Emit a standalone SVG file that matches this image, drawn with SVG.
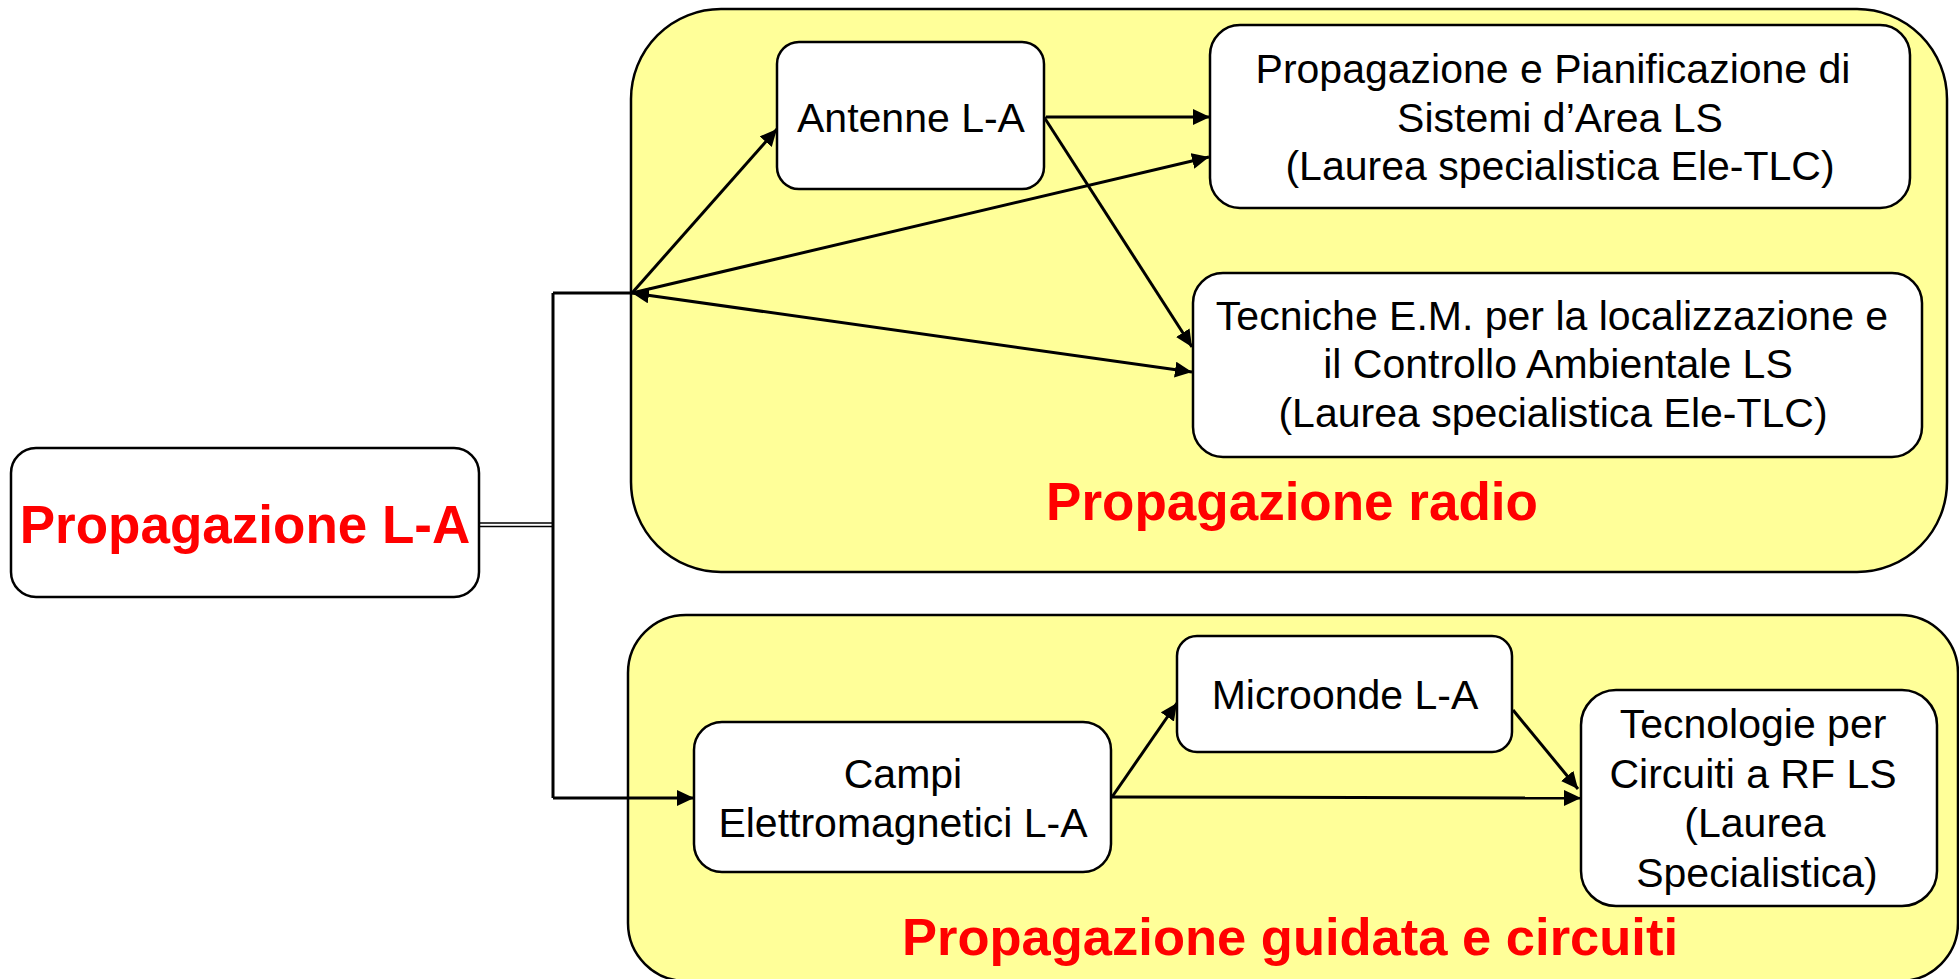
<svg xmlns="http://www.w3.org/2000/svg" width="1959" height="979" viewBox="0 0 1959 979">
  <defs>
    <style>
      .area { fill: #FFFF99; stroke: #000; stroke-width: 2.5; }
      .box { fill: #fff; stroke: #000; stroke-width: 2.5; }
      .t { font-family: "Liberation Sans", Arial, sans-serif; font-size: 41px; fill: #000; text-anchor: middle; }
      .title { font-family: "Liberation Sans", Arial, sans-serif; font-size: 53px; font-weight: bold; fill: #FF0000; text-anchor: middle; }
      .c { fill: none; stroke: #000; stroke-width: 3; }
      .a { fill: none; stroke: #000; stroke-width: 3; marker-end: url(#ah); }
    </style>
    <marker id="ah" markerUnits="userSpaceOnUse" markerWidth="18" markerHeight="16" refX="17" refY="8" orient="auto-start-reverse">
      <path d="M0,0 L17,8 L0,16 z" fill="#000"/>
    </marker>
  </defs>

  <rect width="1959" height="979" fill="#fff"/>

  <g id="area-radio">
    <rect class="area" x="631" y="9" width="1316" height="563" rx="90"/>
    <text class="title" x="1292" y="520">Propagazione radio</text>
  </g>
  <g id="area-guidata">
    <rect class="area" x="628" y="615" width="1330" height="366" rx="58"/>
    <text class="title" x="1290" y="955" style="font-size:52.5px">Propagazione guidata e circuiti</text>
  </g>

  <g id="connectors">
    <path d="M479,523 H553" stroke="#000" stroke-width="1.6" fill="none"/>
    <path d="M479,526.5 H553" stroke="#000" stroke-width="1.6" fill="none"/>
    <path class="c" d="M553,293 V798"/>
    <path class="c" d="M553,293 H632"/>
    <path class="a" d="M553,798 H694"/>
    <path class="a" d="M632,293 L777,129"/>
    <path class="a" d="M632,293 L1209,157"/>
    <path class="a" d="M632,293 L1192,372" marker-start="url(#ah)"/>
    <path class="a" d="M1046,117 L1210,117"/>
    <path class="a" d="M1044,117 L1192,347"/>
    <path class="a" d="M1112,797 L1177,703"/>
    <path class="a" d="M1112,797 L1581,798"/>
    <path class="a" d="M1513,710 L1578,789"/>
  </g>

  <g id="node-propagazione">
    <rect class="box" x="11" y="448" width="468" height="149" rx="25"/>
    <text class="title" x="245" y="543">Propagazione L-A</text>
  </g>
  <g id="node-antenne">
    <rect class="box" x="777" y="42" width="267" height="147" rx="22"/>
    <text class="t" x="911" y="132">Antenne L-A</text>
  </g>
  <g id="node-pianificazione">
    <rect class="box" x="1210" y="25" width="700" height="183" rx="30"/>
    <text class="t" x="1553" y="83">Propagazione e Pianificazione di</text>
    <text class="t" x="1560" y="132">Sistemi d’Area LS</text>
    <text class="t" x="1560" y="180">(Laurea specialistica Ele-TLC)</text>
  </g>
  <g id="node-tecniche">
    <rect class="box" x="1193" y="273" width="729" height="184" rx="30"/>
    <text class="t" x="1552" y="330">Tecniche E.M. per la localizzazione e</text>
    <text class="t" x="1558" y="378">il Controllo Ambientale LS</text>
    <text class="t" x="1553" y="427">(Laurea specialistica Ele-TLC)</text>
  </g>
  <g id="node-campi">
    <rect class="box" x="694" y="722" width="417" height="150" rx="28"/>
    <text class="t" x="903" y="788">Campi</text>
    <text class="t" x="903" y="837">Elettromagnetici L-A</text>
  </g>
  <g id="node-microonde">
    <rect class="box" x="1177" y="636" width="335" height="116" rx="20"/>
    <text class="t" x="1345" y="709">Microonde L-A</text>
  </g>
  <g id="node-tecnologie">
    <rect class="box" x="1581" y="690" width="356" height="216" rx="35"/>
    <text class="t" x="1753" y="738">Tecnologie per</text>
    <text class="t" x="1753" y="788">Circuiti a RF LS</text>
    <text class="t" x="1755" y="837">(Laurea</text>
    <text class="t" x="1757" y="887">Specialistica)</text>
  </g>
</svg>
